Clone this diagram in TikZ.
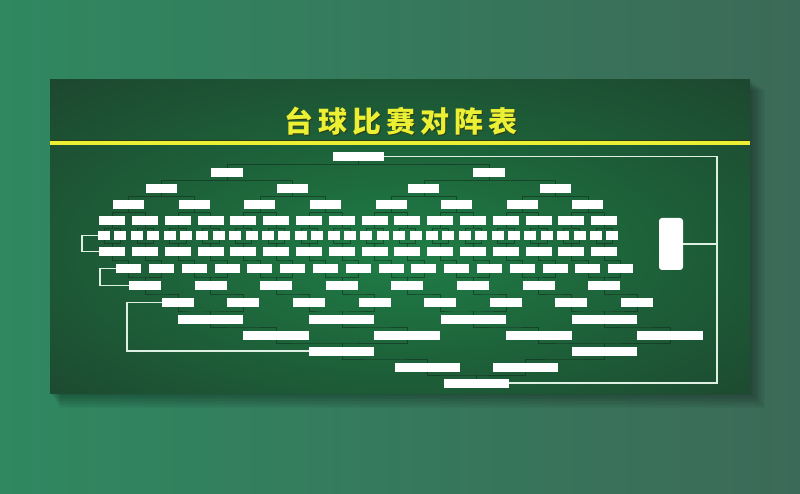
\documentclass[tikz,border=0pt]{standalone}
\usepackage{fontspec}
\newfontfamily\cjk{Noto Sans CJK SC}
\usepackage{tikz}
\usetikzlibrary{calc, positioning}

\definecolor{bgleft}{RGB}{47,136,96}
\definecolor{bgright}{RGB}{60,106,88}
\definecolor{boardin}{RGB}{31,126,70}
\definecolor{boardmid}{RGB}{29,94,56}
\definecolor{boardout}{RGB}{29,58,42}
\definecolor{tiegreen}{RGB}{18,46,30}
\definecolor{chalk}{RGB}{222,240,226}
\definecolor{titleyellow}{RGB}{236,240,52}
\definecolor{rimyellow}{RGB}{45,60,20}

\pgfdeclareradialshading{board}{\pgfpoint{0bp}{-3bp}}{color(0bp)=(boardin); color(20bp)=(boardmid); color(46bp)=(boardout); color(70bp)=(boardout)}

% bracket: parent anchor, two child anchors
\newcommand\tiepair[3]{%
	\coordinate (tm) at ($(#1)!.5!(#2)$);
	\draw[tie] (#2) |- (tm) -| (#3);
	\draw[tie] (#1) -- (#1 |- tm);
}
\newcommand\tieone[2]{%
	\draw[tie] (#1) |- ($(#1)!.5!(#2)$) -| (#2);
}

\begin{document}
\begin{tikzpicture}[x=1pt, y=-1pt,
		slot/.style={fill=white, draw=none, minimum height=9pt, inner sep=0pt, outer sep=0pt},
		tie/.style={draw=tiegreen, line width=0.5pt, draw opacity=0.6},
		feed/.style={draw=chalk, line width=1.4pt},
		headline/.style={font=\cjk\bfseries\fontsize{29}{29}\selectfont\addfontfeature{LetterSpace=17}},
	]
	\useasboundingbox (0,0) rectangle (800,494);
	\shade[left color=bgleft, right color=bgright] (0,0) rectangle (800,494);
	
	% board and its shadow
	\foreach \d in {1,...,10}
		\fill[black, opacity=0.035] (50+\d,80+\d) rectangle (750+1.5*\d,393+1.5*\d);
	\shade[shading=board] (50,80) rectangle (750,393);
	
	\node[headline, text=rimyellow] at (402,122.5) {台球比赛对阵表};
	\node[headline, text=titleyellow] (title) at (401,121) {台球比赛对阵表};
	\draw[rimyellow, line width=5pt] (50,143) -- (750,143);
	\draw[titleyellow, line width=3.5pt] (50,143) -- (750,143);
	
	% winners side
	\foreach \r/\w/\y in {0/51/156.5, 1/32/172.5, 2/31/188.5, 3/31/204.5, 4/26/220.5, 5/12/235.5}{
		\pgfmathtruncatemacro\n{2^\r-1}
		\pgfmathsetmacro\sp{16.4*2^(5-\r)}
		\pgfmathsetmacro\xo{104+8.2*(2^(5-\r)-1)}
		\foreach \i in {0,...,\n}
			\node[slot, minimum width=\w pt] (w\r-\i) at ({\xo+\i*\sp},\y) {};
	}
	
	% losers side
	\foreach \k/\n/\xo/\sp/\y/\w in {6/15/112.2/32.8/251.5/26, 7/15/128.6/32.8/268.5/25, 8/7/145/65.6/285.5/32, 9/7/177.8/65.6/302.5/32, 10/3/210.6/131.2/319/65, 11/3/276.2/131.2/335/66, 12/1/341.8/262.4/351/65, 13/1/427.5/97.5/367/65, 14/0/476.5/0/383/65}{
		\foreach \i in {0,...,\n}
			\node[slot, minimum width=\w pt] (l\k-\i) at ({\xo+\i*\sp},\y) {};
	}
	
	\node[slot, minimum width=24pt, minimum height=52pt, rounded corners=3pt] (final) at (671,244) {};
	
	% ties
	\foreach \r in {0,...,4}{
		\pgfmathtruncatemacro\s{\r+1}
		\pgfmathtruncatemacro\n{2^\r-1}
		\foreach \j in {0,...,\n}{
			\pgfmathtruncatemacro\a{2*\j}
			\pgfmathtruncatemacro\b{2*\j+1}
			\tiepair{w\r-\j.south}{w\s-\a.north}{w\s-\b.north}
		}
	}
	\foreach \j in {0,...,15}{
		\pgfmathtruncatemacro\a{2*\j}
		\pgfmathtruncatemacro\b{2*\j+1}
		\tiepair{l6-\j.north}{w5-\a.south}{w5-\b.south}
	}
	\foreach \k/\n in {7/7, 9/3, 11/1, 13/0}{
		\pgfmathtruncatemacro\s{\k+1}
		\foreach \j in {0,...,\n}{
			\pgfmathtruncatemacro\a{2*\j}
			\pgfmathtruncatemacro\b{2*\j+1}
			\tiepair{l\s-\j.north}{l\k-\a.south}{l\k-\b.south}
		}
	}
	\foreach \k/\n in {6/15, 8/7, 10/3, 12/1}{
		\pgfmathtruncatemacro\s{\k+1}
		\foreach \i in {0,...,\n}{
			\tieone{l\k-\i.south}{l\s-\i.north}
		}
	}
	
	% drop lines
	\draw[feed] (w5-0.west) -- ++(-16,0) |- (l6-0.west);
	\draw[feed] (l7-0.west) -- ++(-16,0) |- (l8-0.west);
	\draw[feed] (l9-0.west) -- ++(-35,0) |- (l12-0.west);
	\coordinate (rail) at (717,244);
	\draw[feed] (w0-0.east) -| (rail) |- (l14-0.east);
	\draw[feed] (final.east) -- (rail);
\end{tikzpicture}
\end{document}
